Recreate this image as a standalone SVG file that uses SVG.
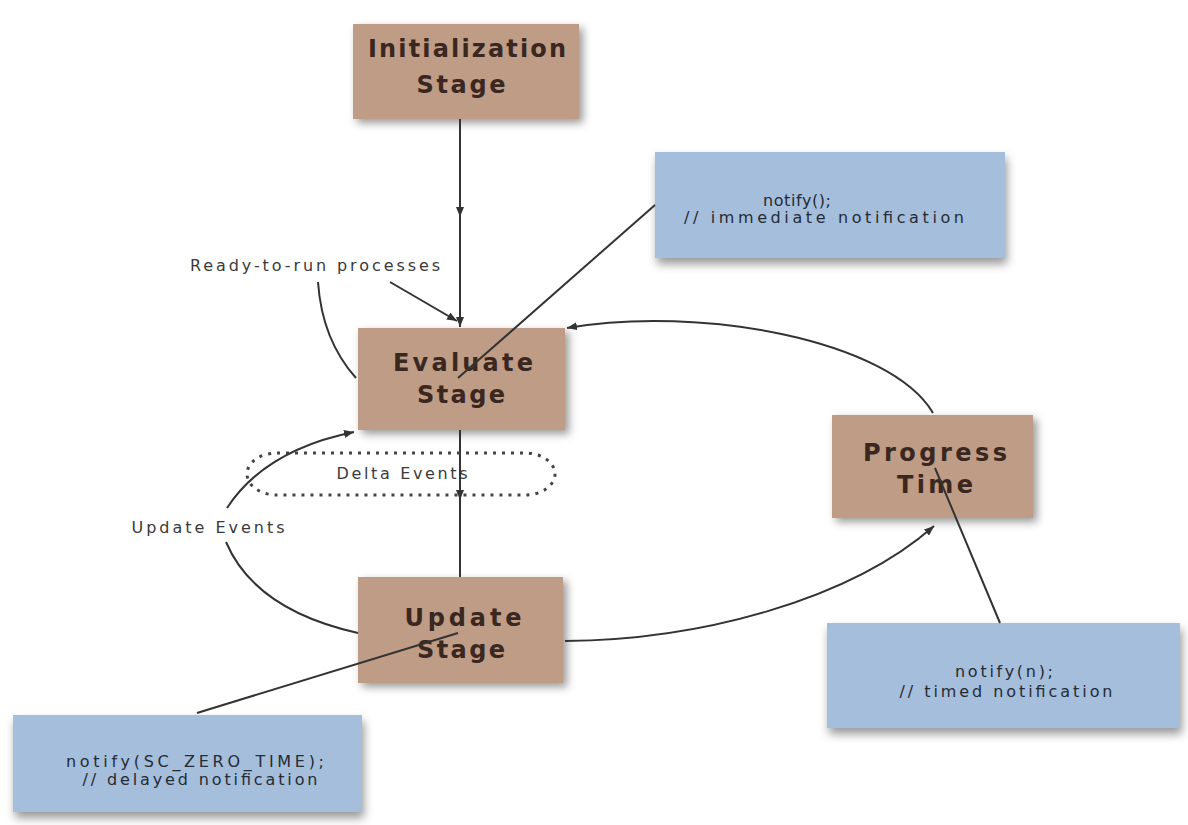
<svg xmlns="http://www.w3.org/2000/svg" width="1188" height="825" viewBox="0 0 1188 825">
  <style>
    .stage { fill: #BE9C86; filter: url(#shadowBrown); }
    .note { fill: #A4BEDC; filter: url(#shadowBlue); }
    .stage-text { font-family: "DejaVu Sans", Verdana, sans-serif; font-weight: bold; font-size: 24px; fill: #3a271f; }
    .note-text { font-family: "DejaVu Sans", Verdana, sans-serif; font-size: 16px; fill: #262b34; }
    .label { font-family: "DejaVu Sans", Verdana, sans-serif; font-size: 16px; fill: #3a3a3a; }
    .wire { fill: none; stroke: #333; stroke-width: 2; }
    .dotted { fill: none; stroke: #444; stroke-width: 3; stroke-dasharray: 3 6; }
  </style>
  <defs>
    <filter id="shadowBrown" x="-10%" y="-10%" width="125%" height="130%">
      <feDropShadow dx="4" dy="4" stdDeviation="4" flood-color="#000" flood-opacity="0.4"/>
    </filter>
    <filter id="shadowBlue" x="-10%" y="-10%" width="125%" height="140%">
      <feDropShadow dx="2" dy="6" stdDeviation="5" flood-color="#000" flood-opacity="0.4"/>
    </filter>
    <marker id="arrow" viewBox="0 0 10 8" refX="10" refY="4" markerWidth="10" markerHeight="8" markerUnits="userSpaceOnUse" orient="auto">
      <path d="M0,0 L10,4 L0,8 z" fill="#333"/>
    </marker>
  </defs>

  <rect width="1188" height="825" fill="#ffffff"/>

  <!-- stages and notes -->
  <g id="init-stage">
    <rect class="stage" x="353" y="24" width="226" height="95"/>
    <text class="stage-text" x="467" y="57" text-anchor="middle" textLength="198">Initialization</text>
    <text class="stage-text" x="461" y="93" text-anchor="middle" textLength="89">Stage</text>
  </g>

  <g id="evaluate-stage">
    <rect class="stage" x="358" y="328" width="207" height="102"/>
    <text class="stage-text" x="463" y="371" text-anchor="middle" textLength="140">Evaluate</text>
    <text class="stage-text" x="461" y="403" text-anchor="middle" textLength="88">Stage</text>
  </g>

  <g id="update-stage">
    <rect class="stage" x="358" y="577" width="205" height="106"/>
    <text class="stage-text" x="463" y="626" text-anchor="middle" textLength="117">Update</text>
    <text class="stage-text" x="461" y="658" text-anchor="middle" textLength="88">Stage</text>
  </g>

  <g id="progress-time">
    <rect class="stage" x="832" y="415" width="201" height="103"/>
    <text class="stage-text" x="935" y="461" text-anchor="middle" textLength="144">Progress</text>
    <text class="stage-text" x="935" y="493" text-anchor="middle" textLength="76">Time</text>
  </g>

  <g id="note-immediate">
    <rect class="note" x="655" y="152" width="350" height="106"/>
    <text class="note-text" x="797" y="206" text-anchor="middle" textLength="68">notify();</text>
    <text class="note-text" x="824" y="223" text-anchor="middle" textLength="280">// immediate notification</text>
  </g>

  <g id="note-delayed">
    <rect class="note" x="13" y="715" width="349" height="97"/>
    <text class="note-text" x="195" y="767" text-anchor="middle" textLength="258">notify(SC_ZERO_TIME);</text>
    <text class="note-text" x="200" y="785" text-anchor="middle" textLength="235">// delayed notification</text>
  </g>

  <g id="note-timed">
    <rect class="note" x="827" y="623" width="353" height="105"/>
    <text class="note-text" x="1004" y="677" text-anchor="middle" textLength="98">notify(n);</text>
    <text class="note-text" x="1006" y="697" text-anchor="middle" textLength="213">// timed notification</text>
  </g>

  <!-- connectors and their labels -->
  <g id="connectors">
    <!-- Initialization -> Evaluate -->
    <path class="wire" d="M460,119 L460,217 L460,327" marker-mid="url(#arrow)" marker-end="url(#arrow)"/>
    <!-- ready-to-run processes -->
    <path class="wire" d="M390,282 L457,321" marker-end="url(#arrow)"/>
    <path class="wire" d="M318,282 Q322,340 356,378"/>
    <!-- Evaluate -> Update through delta events -->
    <path class="wire" d="M460,430 L460,500 L460,577" marker-mid="url(#arrow)"/>
    <rect class="dotted" x="247" y="453" width="308" height="42" rx="30" ry="21"/>
    <!-- update events loop -->
    <path class="wire" d="M227,508 Q265,450 354,432" marker-end="url(#arrow)"/>
    <path class="wire" d="M226,542 Q255,610 358,633"/>
    <!-- Update -> Progress Time -->
    <path class="wire" d="M565,641 C700,640 850,600 934,526" marker-end="url(#arrow)"/>
    <!-- Progress Time -> Evaluate -->
    <path class="wire" d="M933,413 C890,340 700,305 567,328" marker-end="url(#arrow)"/>
    <!-- note leaders -->
    <path class="wire" d="M655,205 L458,378"/>
    <path class="wire" d="M197,713 L458,633"/>
    <path class="wire" d="M1000,623 L935,468"/>

    <text class="label" x="315" y="271" text-anchor="middle" textLength="250">Ready-to-run processes</text>
    <text class="label" x="402" y="479" text-anchor="middle" textLength="131">Delta Events</text>
    <text class="label" x="208" y="533" text-anchor="middle" textLength="153">Update Events</text>
  </g>
</svg>
